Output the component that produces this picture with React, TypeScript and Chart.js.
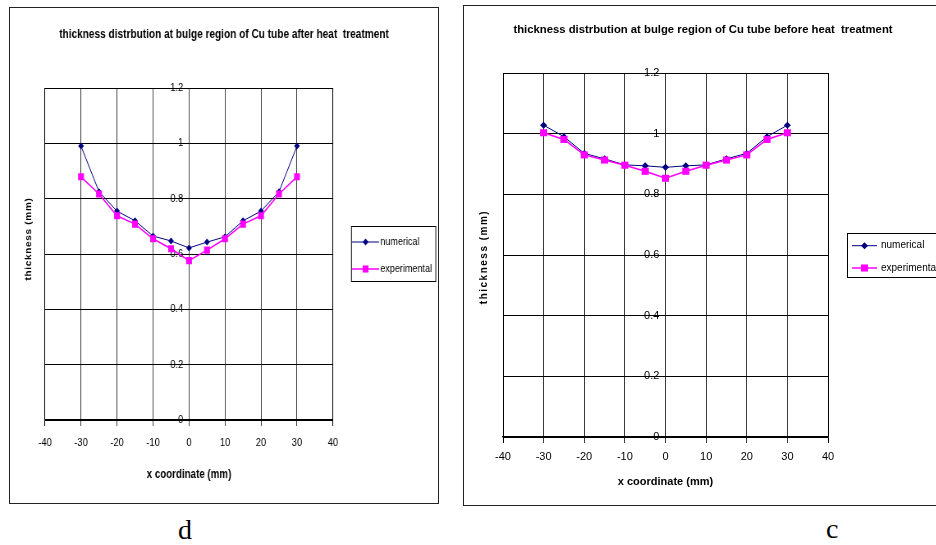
import React, { useEffect, useRef } from "react";
import { Chart, registerables } from "chart.js";

Chart.register(...registerables);

// ---------- data ----------
const xCoordinates = [-30, -25, -20, -15, -10, -5, 0, 5, 10, 15, 20, 25, 30];

const afterNumerical = [0.99, 0.825, 0.755, 0.72, 0.665, 0.647, 0.622, 0.643, 0.662, 0.72, 0.755, 0.825, 0.99];
const afterExperimental = [0.879, 0.817, 0.738, 0.708, 0.655, 0.619, 0.576, 0.614, 0.655, 0.708, 0.738, 0.817, 0.879];

const beforeNumerical = [1.028, 0.99, 0.935, 0.917, 0.897, 0.894, 0.889, 0.894, 0.897, 0.917, 0.935, 0.99, 1.028];
const beforeExperimental = [1.003, 0.981, 0.93, 0.913, 0.896, 0.876, 0.853, 0.876, 0.896, 0.913, 0.93, 0.981, 1.003];

const xTickValues = [-40, -30, -20, -10, 0, 10, 20, 30, 40];
const yTickValues = [0, 0.2, 0.4, 0.6, 0.8, 1, 1.2];

const seriesLabels = ["numerical", "experimental"];
const titleAfter = "thickness distrbution at bulge region of Cu tube after heat  treatment";
const titleBefore = "thickness distrbution at bulge region of Cu tube before heat  treatment";
const xAxisTitle = "x coordinate (mm)";
const yAxisTitle = "thickness (mm)";
const panelLabels = ["d", "c"];

// ---------- styling ----------
const NAVY = "#000080";
const MAGENTA = "#FF00FF";
const ARIAL = "'Liberation Sans', Arial, sans-serif";

type PanelSpec = {
  left: number;
  top: number;
  width: number; // canvas width (before horizontal squeeze)
  height: number;
  squeeze: number; // horizontal css scale
  frameWidth: number;
  title: string;
  titleSize: number;
  titlePadding: { top: number; bottom: number };
  tickSize: number;
  xTitleSize: number;
  yTitleSize: number;
  yTitleSpacing: string;
  padLeft: number;
  padRight: number;
  padBottom: number;
  xTickPadding: number;
  xTitlePadding: { top: number; bottom: number };
  yLabelOffset: number;
  yTitlePos: [number, number];
  legendFontSize: number;
  legendBox: [number, number, number, number];
  legendRows: [number, number];
  legendLine: [number, number];
  legendTextX: number;
  numerical: number[];
  experimental: number[];
};

const panels: PanelSpec[] = [
  {
    left: 9,
    top: 7,
    width: 524,
    height: 497,
    squeeze: 430 / 524,
    frameWidth: 430,
    title: titleAfter,
    titleSize: 12.3,
    titlePadding: { top: 20.3, bottom: 45.94 },
    tickSize: 11.4,
    xTitleSize: 11.9,
    yTitleSize: 10,
    yTitleSpacing: "0.7px",
    padLeft: 43.9,
    padRight: 129.2,
    padBottom: 18.86,
    xTickPadding: 10.16,
    xTitlePadding: { top: 7.86, bottom: 3 },
    yLabelOffset: -1.6,
    yTitlePos: [24.4, 232],
    legendFontSize: 11,
    legendBox: [416.8, 219, 102.8, 55],
    legendRows: [235, 262],
    legendLine: [418, 451],
    legendTextX: 452.5,
    numerical: afterNumerical,
    experimental: afterExperimental,
  },
  {
    left: 463,
    top: 5,
    width: 480,
    height: 501,
    squeeze: 1,
    frameWidth: 480,
    title: titleBefore,
    titleSize: 11.3,
    titlePadding: { top: 18, bottom: 36.44 },
    tickSize: 11,
    xTitleSize: 11,
    yTitleSize: 10,
    yTitleSpacing: "1.5px",
    padLeft: 40,
    padRight: 115,
    padBottom: 14.4,
    xTickPadding: 7.4,
    xTitlePadding: { top: 4.4, bottom: 3 },
    yLabelOffset: -1.5,
    yTitlePos: [21, 252],
    legendFontSize: 10,
    legendBox: [384, 228, 100, 44],
    legendRows: [240.7, 263],
    legendLine: [389, 414],
    legendTextX: 418,
    numerical: beforeNumerical,
    experimental: beforeExperimental,
  },
];

function Panel({ spec }: { spec: PanelSpec }) {
  const ref = useRef<HTMLCanvasElement | null>(null);

  useEffect(() => {
    const canvas = ref.current;
    if (!canvas) return;

    const decorations = {
      id: "decorations",
      afterDraw(chart: any) {
        const ctx: CanvasRenderingContext2D = chart.ctx;
        // rotated y-axis title
        ctx.save();
        ctx.translate(spec.yTitlePos[0], spec.yTitlePos[1]);
        ctx.rotate(-Math.PI / 2);
        ctx.font = `bold ${spec.yTitleSize}px ${ARIAL}`;
        (ctx as any).letterSpacing = spec.yTitleSpacing;
        ctx.fillStyle = "#000";
        ctx.textAlign = "center";
        ctx.textBaseline = "middle";
        ctx.fillText(yAxisTitle, 0, 0);
        ctx.restore();

        // legend box
        ctx.save();
        const [bx, by, bw, bh] = spec.legendBox;
        ctx.strokeStyle = "#000";
        ctx.lineWidth = 1;
        ctx.strokeRect(bx + 0.5, by + 0.5, bw, bh);
        chart.data.datasets.forEach((ds: any, i: number) => {
          const y = spec.legendRows[i];
          const [x1, x2] = spec.legendLine;
          ctx.strokeStyle = ds.borderColor;
          ctx.lineWidth = ds.borderWidth;
          ctx.beginPath();
          ctx.moveTo(x1, y);
          ctx.lineTo(x2, y);
          ctx.stroke();
          const cx = (x1 + x2) / 2;
          ctx.fillStyle = ds.backgroundColor;
          ctx.beginPath();
          if (ds.pointStyle === "rectRot") {
            const r = ds.pointRadius;
            ctx.moveTo(cx - r, y);
            ctx.lineTo(cx, y - r);
            ctx.lineTo(cx + r, y);
            ctx.lineTo(cx, y + r);
            ctx.closePath();
          } else {
            const h = ds.pointRadius * Math.SQRT1_2;
            ctx.rect(cx - h, y - h, 2 * h, 2 * h);
          }
          ctx.fill();
          ctx.fillStyle = "#000";
          ctx.font = `${spec.legendFontSize}px ${ARIAL}`;
          ctx.textAlign = "left";
          ctx.textBaseline = "middle";
          ctx.fillText(ds.label, spec.legendTextX, y);
        });
        ctx.restore();
      },
    };

    const yTicksFromList = (s: any) => {
      s.ticks = yTickValues.map((v) => ({ value: v }));
    };

    const spacer = (position: string, size: number) => ({
      type: "linear",
      axis: "y",
      position,
      display: true,
      ticks: { display: false },
      grid: { display: false, drawTicks: false },
      border: { display: false },
      title: { display: false },
      afterFit: (s: any) => {
        s.width = size;
      },
    });

    const chart = new Chart(canvas, {
      type: "line",
      data: {
        datasets: [
          {
            label: seriesLabels[0],
            data: xCoordinates.map((x, i) => ({ x, y: spec.numerical[i] })),
            borderColor: NAVY,
            backgroundColor: NAVY,
            borderWidth: 1,
            pointStyle: "rectRot",
            pointRadius: 3.5,
            pointBorderWidth: 0,
            tension: 0,
            order: 2,
            yAxisID: "y",
          },
          {
            label: seriesLabels[1],
            data: xCoordinates.map((x, i) => ({ x, y: spec.experimental[i] })),
            borderColor: MAGENTA,
            backgroundColor: MAGENTA,
            borderWidth: 1.5,
            pointStyle: "rect",
            pointRadius: 5,
            pointBorderWidth: 0,
            tension: 0,
            order: 1,
            yAxisID: "y",
          },
        ],
      },
      options: {
        animation: false,
        responsive: false,
        events: [],
        layout: { padding: { left: 0, right: 0, top: 0, bottom: spec.padBottom } },
        plugins: {
          legend: { display: false },
          tooltip: { enabled: false },
          title: {
            display: true,
            fullSize: true,
            text: spec.title,
            color: "#000",
            font: { family: ARIAL, size: spec.titleSize, weight: "bold" },
            padding: spec.titlePadding,
          },
        },
        scales: {
          x: {
            type: "linear",
            axis: "x",
            position: "bottom",
            min: -40,
            max: 40,
            afterBuildTicks: (s: any) => {
              s.ticks = xTickValues.map((v) => ({ value: v }));
            },
            ticks: {
              color: "#000",
              font: { family: ARIAL, size: spec.tickSize },
              padding: spec.xTickPadding,
              maxRotation: 0,
              autoSkip: false,
              callback: (v: any) => String(v),
            },
            grid: {
              color: (c: any) =>
                c.tick && (c.tick.value === -40 || c.tick.value === 40) ? "#000" : "#3c3c3c",
              lineWidth: 1,
              drawTicks: true,
              tickLength: 6,
            },
            border: { display: true, color: "#000", width: 1.5 },
            title: {
              display: true,
              text: xAxisTitle,
              color: "#000",
              font: { family: ARIAL, size: spec.xTitleSize, weight: "bold" },
              padding: spec.xTitlePadding,
            },
          },
          y: {
            type: "linear",
            axis: "y",
            position: { x: 0 },
            min: 0,
            max: 1.2,
            afterBuildTicks: yTicksFromList,
            ticks: { display: false },
            grid: { color: "#000", lineWidth: 1, drawTicks: true, tickLength: 4 },
            border: { display: false },
          },
          yLabels: {
            type: "linear",
            axis: "y",
            position: { x: spec.yLabelOffset },
            min: 0,
            max: 1.2,
            afterBuildTicks: yTicksFromList,
            ticks: {
              color: "#000",
              font: { family: ARIAL, size: spec.tickSize },
              autoSkip: false,
              callback: (v: any) => String(v),
            },
            grid: { display: false, drawTicks: false },
            border: { display: false },
          },
          spaceLeft: spacer("left", spec.padLeft),
          spaceRight: spacer("right", spec.padRight),
        },
      } as any,
      plugins: [decorations],
    });

    return () => chart.destroy();
  }, [spec]);

  return (
    <>
      <canvas
        ref={ref}
        width={spec.width}
        height={spec.height}
        style={{
          position: "absolute",
          left: spec.left,
          top: spec.top,
          width: spec.width,
          height: spec.height,
          transform: `scaleX(${spec.squeeze})`,
          transformOrigin: "0 0",
        }}
      />
      <div
        style={{
          position: "absolute",
          left: spec.left,
          top: spec.top,
          width: spec.frameWidth,
          height: spec.height,
          boxSizing: "border-box",
          border: "1.5px solid #222",
          pointerEvents: "none",
        }}
      />
    </>
  );
}

export default function App() {
  return (
    <div
      style={{
        position: "absolute",
        left: 0,
        top: 0,
        width: 936,
        height: 545,
        overflow: "hidden",
        background: "#fff",
      }}
    >
      {panels.map((p, i) => (
        <Panel key={i} spec={p} />
      ))}
      <div
        style={{
          position: "absolute",
          left: 178,
          top: 515.6,
          fontFamily: "'Liberation Serif', 'Times New Roman', serif",
          fontSize: 28,
          lineHeight: "28px",
          color: "#000",
        }}
      >
        {panelLabels[0]}
      </div>
      <div
        style={{
          position: "absolute",
          left: 826,
          top: 514.6,
          fontFamily: "'Liberation Serif', 'Times New Roman', serif",
          fontSize: 28,
          lineHeight: "28px",
          color: "#000",
        }}
      >
        {panelLabels[1]}
      </div>
    </div>
  );
}
